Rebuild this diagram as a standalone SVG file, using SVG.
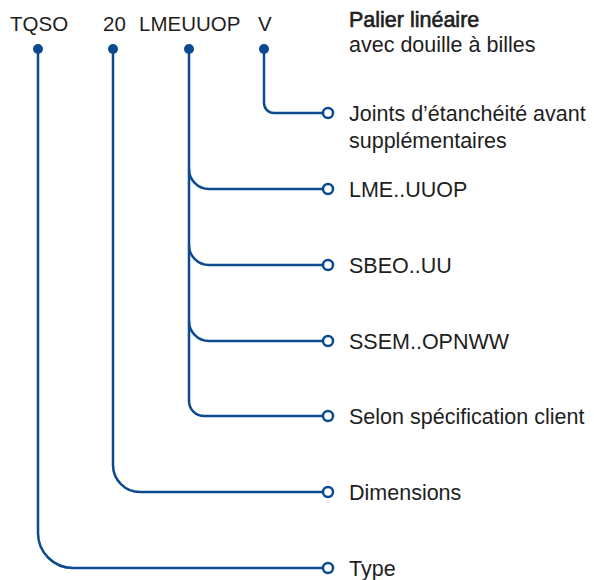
<svg xmlns="http://www.w3.org/2000/svg" width="594" height="580" viewBox="0 0 594 580">
<style>
text{font-family:"Liberation Sans",Arial,sans-serif;font-size:21.5px;fill:#1e1e1e}
.c{font-size:20.5px}
.b{stroke:#1e1e1e;stroke-width:0.6}
.ln{fill:none;stroke:#0b4a91;stroke-width:2.5}
.dot{fill:#0b4a91}
.end{fill:#fff;stroke:#0b4a91;stroke-width:2.5}
</style>
<rect width="594" height="580" fill="#fff"/>
<g id="codes">
<text x="10" y="31" class="c">TQSO</text>
<text x="103" y="31" class="c">20</text>
<text x="139" y="31" class="c">LMEUUOP</text>
<text x="258" y="31" class="c">V</text>
</g>
<g id="title">
<text x="349" y="27" class="b">Palier linéaire</text>
<text x="349" y="52">avec douille à billes</text>
</g>
<g id="connectors">
<path class="ln" d="M264 49 V103 A10 10 0 0 0 274 113 H322"/>
<path class="ln" d="M189 49 V401 A15 15 0 0 0 204 416 H322"/>
<path class="ln" d="M189 169 A20 20 0 0 0 209 189 H322"/>
<path class="ln" d="M189 245 A20 20 0 0 0 209 265 H322"/>
<path class="ln" d="M189 321 A20 20 0 0 0 209 341 H322"/>
<path class="ln" d="M113 49 V465 A27 27 0 0 0 140 492 H322"/>
<path class="ln" d="M38 49 V533 A35 35 0 0 0 73 568 H322"/>
<circle class="dot" cx="38" cy="49" r="5"/>
<circle class="dot" cx="113" cy="49" r="5"/>
<circle class="dot" cx="189" cy="49" r="5"/>
<circle class="dot" cx="264" cy="49" r="5"/>
<circle class="end" cx="328" cy="113" r="5"/>
<circle class="end" cx="328" cy="189" r="5"/>
<circle class="end" cx="328" cy="265" r="5"/>
<circle class="end" cx="328" cy="341" r="5"/>
<circle class="end" cx="328" cy="416" r="5"/>
<circle class="end" cx="328" cy="492" r="5"/>
<circle class="end" cx="328" cy="568" r="5"/>
</g>
<g id="n-joints"><text x="349" y="121">Joints d’étanchéité avant</text><text x="349" y="148">supplémentaires</text></g>
<g id="n-lme"><text x="349" y="197">LME..UUOP</text></g>
<g id="n-sbeo"><text x="349" y="273">SBEO..UU</text></g>
<g id="n-ssem"><text x="349" y="349">SSEM..OPNWW</text></g>
<g id="n-selon"><text x="349" y="424">Selon spécification client</text></g>
<g id="n-dim"><text x="349" y="500">Dimensions</text></g>
<g id="n-type"><text x="349" y="576">Type</text></g>
</svg>
